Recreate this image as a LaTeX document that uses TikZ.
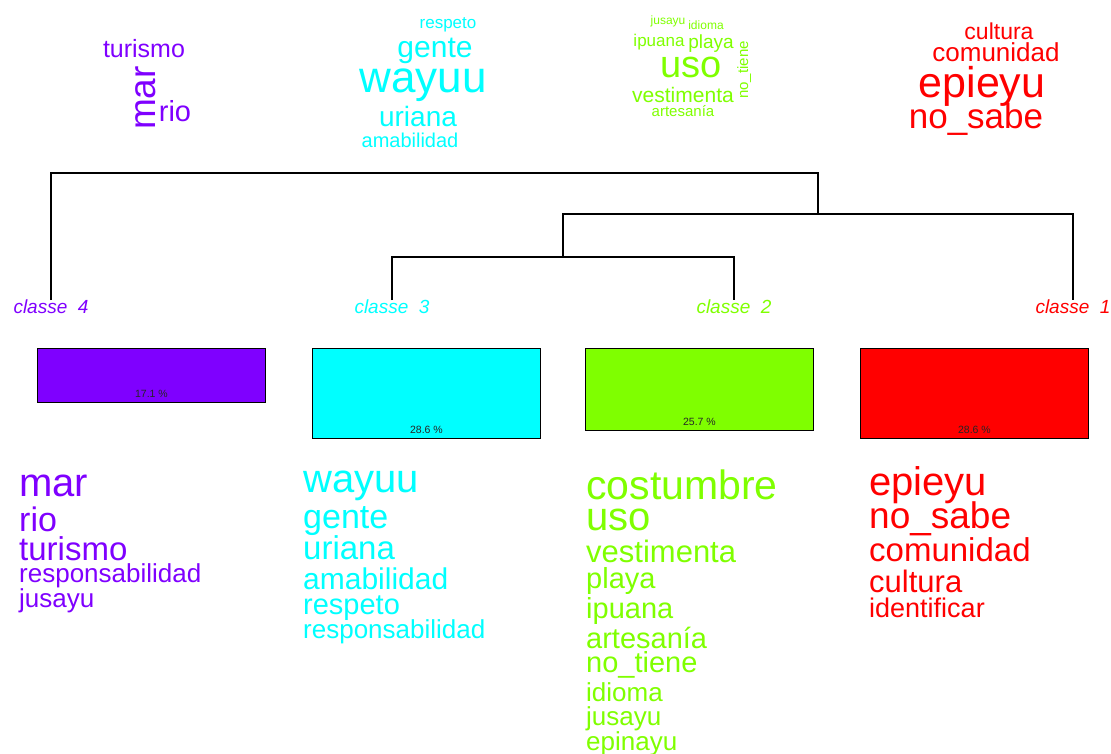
\documentclass[tikz,border=0pt]{standalone}
\usepackage{fontspec}
\setmainfont{Liberation Sans}
\usetikzlibrary{calc}
\definecolor{cfour}{HTML}{7F00FF}
\definecolor{cthree}{HTML}{00FFFF}
\definecolor{ctwo}{HTML}{7FFF00}
\definecolor{cone}{HTML}{FF0000}
\newcommand\fsz[1]{\fontsize{#1}{#1}\selectfont}
\begin{document}
\begin{tikzpicture}[x=1pt,y=-1pt,
  word/.style={inner sep=0pt, anchor=base},
  item/.style={inner sep=0pt, anchor=base west},
  clabel/.style={inner sep=0pt, anchor=base, font=\fsz{19}\itshape},
  dendro/.style={draw=black, line width=1.1pt},
  bar/.style={draw=black, line width=0.9pt, anchor=north west, minimum width=228pt, inner sep=0pt},
  pct/.style={inner sep=0pt, anchor=base, font=\fsz{10.5}, text=black!85}]
\useasboundingbox (0,0) rectangle (1111,753);

% ---- word clouds ----
\begin{scope}[text=cfour]
\node[word] (w4a) at (144,57) {\fsz{25}turismo};
\node[word, rotate=90] (w4b) at (155,98) {\fsz{37}mar};
\node[word] (w4c) at (175,121) {\fsz{29}rio};
\end{scope}

\begin{scope}[text=cthree]
\node[word] (w3a) at (448,28) {\fsz{17}respeto};
\node[word] (w3b) at (435,57) {\fsz{30}gente};
\node[word] (w3c) at (423,92) {\fsz{44}wayuu};
\node[word] (w3d) at (418,126) {\fsz{28}uriana};
\node[word] (w3e) at (410,147) {\fsz{20}amabilidad};
\end{scope}

\begin{scope}[text=ctwo]
\node[word] (w2a) at (668,24) {\fsz{12}jusayu};
\node[word] (w2b) at (706,29) {\fsz{12}idioma};
\node[word] (w2c) at (659,46) {\fsz{17}ipuana};
\node[word] (w2d) at (711,48) {\fsz{19}playa};
\node[word] (w2e) at (691,77) {\fsz{38}uso};
\node[word] (w2f) at (683,102) {\fsz{21}vestimenta};
\node[word] (w2g) at (683,116) {\fsz{15}artesanía};
\node[word, rotate=90] (w2h) at (748,70) {\fsz{15}no\_tiene};
\end{scope}

\begin{scope}[text=cone]
\node[word] (w1a) at (999,39) {\fsz{23}cultura};
\node[word] (w1b) at (996,61) {\fsz{26}comunidad};
\node[word] (w1c) at (982,97) {\fsz{43}epieyu};
\node[word] (w1d) at (976,128) {\fsz{35}no\_sabe};
\end{scope}

% ---- dendrogram ----
\node[clabel, text=cfour]  (l4) at (51,313)   {classe\ \ 4};
\node[clabel, text=cthree] (l3) at (392,313)  {classe\ \ 3};
\node[clabel, text=ctwo]   (l2) at (734,313)  {classe\ \ 2};
\node[clabel, text=cone]   (l1) at (1073,313) {classe\ \ 1};

\coordinate (h3) at (0,257);
\coordinate (h2) at (0,214);
\coordinate (h1) at (0,173);
\coordinate (tl4) at ($(l4.north)+(0,1)$);
\coordinate (tl3) at ($(l3.north)+(0,1)$);
\coordinate (tl2) at ($(l2.north)+(0,1)$);
\coordinate (tl1) at ($(l1.north)+(0,1)$);
\coordinate (m23) at ($(tl3)!.5!(tl2)$);
\coordinate (n23) at (m23 |- h3);
\coordinate (m123) at ($(n23)!.5!(tl1)$);
\coordinate (n123) at (m123 |- h2);

\draw[dendro] (tl3) |- (tl2 |- h3) -- (tl2);
\draw[dendro] (n23) |- (tl1 |- h2) -- (tl1);
\draw[dendro] (tl4) |- (n123 |- h1) -- (n123);

% ---- class size bars ----
\node[bar, fill=cfour,  minimum height=54pt] (b4) at (37,348)  {};
\node[bar, fill=cthree, minimum height=90pt] (b3) at (312,348) {};
\node[bar, fill=ctwo,   minimum height=82pt] (b2) at (585,348) {};
\node[bar, fill=cone,   minimum height=90pt] (b1) at (860,348) {};
\node[pct] (p4) at ($(b4.south)+(0,-5)$) {17.1 \%};
\node[pct] (p3) at ($(b3.south)+(0,-5)$) {28.6 \%};
\node[pct] (p2) at ($(b2.south)+(0,-5)$) {25.7 \%};
\node[pct] (p1) at ($(b1.south)+(0,-5)$) {28.6 \%};

% ---- ranked word lists ----
\begin{scope}[text=cfour]
\node[item] (t4a) at (19,496) {\fsz{40}mar};
\node[item] (t4b) at (19,531) {\fsz{34}rio};
\node[item] (t4c) at (19,560) {\fsz{33}turismo};
\node[item] (t4d) at (19,582) {\fsz{26}responsabilidad};
\node[item] (t4e) at (19,607) {\fsz{26}jusayu};
\end{scope}

\begin{scope}[text=cthree]
\node[item] (t3a) at (303,492) {\fsz{40}wayuu};
\node[item] (t3b) at (303,528) {\fsz{34}gente};
\node[item] (t3c) at (303,559) {\fsz{33}uriana};
\node[item] (t3d) at (303,589) {\fsz{30}amabilidad};
\node[item] (t3e) at (303,614) {\fsz{29}respeto};
\node[item] (t3f) at (303,638) {\fsz{26}responsabilidad};
\end{scope}

\begin{scope}[text=ctwo]
\node[item] (t2a) at (586,499) {\fsz{41}costumbre};
\node[item] (t2b) at (586,530) {\fsz{40}uso};
\node[item] (t2c) at (586,562) {\fsz{31}vestimenta};
\node[item] (t2d) at (586,588) {\fsz{29}playa};
\node[item] (t2e) at (586,618) {\fsz{29}ipuana};
\node[item] (t2f) at (586,648) {\fsz{29}artesanía};
\node[item] (t2g) at (586,672) {\fsz{29}no\_tiene};
\node[item] (t2h) at (586,701) {\fsz{26}idioma};
\node[item] (t2i) at (586,725) {\fsz{26}jusayu};
\node[item] (t2j) at (586,750) {\fsz{26}epinayu};
\end{scope}

\begin{scope}[text=cone]
\node[item] (t1a) at (869,495) {\fsz{40}epieyu};
\node[item] (t1b) at (869,528) {\fsz{37}no\_sabe};
\node[item] (t1c) at (869,561) {\fsz{33}comunidad};
\node[item] (t1d) at (869,592) {\fsz{31}cultura};
\node[item] (t1e) at (869,617) {\fsz{27}identificar};
\end{scope}
\end{tikzpicture}
\end{document}
